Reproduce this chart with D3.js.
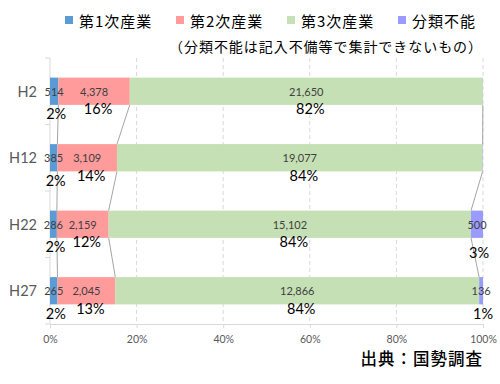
<!DOCTYPE html>
<html>
<head>
<meta charset="utf-8">
<script src="https://cdn.jsdelivr.net/npm/d3@7"></script>
<style>
  body { margin: 0; background: #fff; }
  svg { display: block; }
</style>
</head>
<body>
<div class="chart"></div>
<script>
// data
const years = ["H2", "H12", "H22", "H27"]
const seriesNames = ["第1次産業", "第2次産業", "第3次産業", "分類不能"]
const primary = [514, 385, 286, 265]
const secondary = [4378, 3109, 2159, 2045]
const tertiary = [21650, 19077, 15102, 12866]
const unknown = [10, 20, 500, 136]
const xTicks = [0, 0.2, 0.4, 0.6, 0.8, 1]
const colors = ["#5B9BD5", "#FF9B9B", "#C5E0B4", "#9B9BFF"]

const W = 500, H = 384
const plotLeft = 50, plotRight = 483, plotTop = 58, plotBottom = 324
const numFont = "Lato, 'Liberation Sans', sans-serif"
const jpFont = "'Noto Sans CJK JP', sans-serif"

const svg = d3.select(".chart").append("svg")
  .attr("width", W).attr("height", H)

// build stacked rows
const rows = years.map((yr, i) => {
  const vals = [primary[i], secondary[i], tertiary[i], unknown[i]]
  const total = d3.sum(vals)
  let acc = 0
  const segs = vals.map((v, k) => {
    const s = { key: k, value: v, start: acc / total, end: (acc + v) / total, share: v / total }
    acc += v
    return s
  })
  return { year: yr, segs: segs }
})

const x = d3.scaleLinear().domain([0, 1]).range([plotLeft, plotRight])
const y = d3.scaleBand().domain(years).range([plotTop, plotBottom])
  .paddingInner(0.59).paddingOuter(0.295)

// gridlines
svg.append("g").selectAll("line")
  .data(xTicks.filter(t => t > 0))
  .join("line")
  .attr("x1", d => x(d)).attr("x2", d => x(d))
  .attr("y1", plotTop).attr("y2", plotBottom)
  .attr("stroke", "#D9D9D9")
  .attr("stroke-dasharray", "4,3")

// bottom axis
const xAxis = svg.append("g")
  .attr("transform", `translate(0,${plotBottom})`)
  .call(d3.axisBottom(x).tickValues(xTicks).tickFormat(d3.format(".0%")).tickSize(4).tickPadding(8))
xAxis.select(".domain").attr("stroke", "#D9D9D9")
xAxis.selectAll(".tick line").attr("stroke", "#D9D9D9")
xAxis.selectAll("text").attr("fill", "#595959").style("font-family", numFont).style("font-size", "10.5px")

// left category axis
const step = y.step()
const yAxisG = svg.append("g")
yAxisG.append("line")
  .attr("x1", plotLeft).attr("x2", plotLeft).attr("y1", plotTop).attr("y2", plotBottom)
  .attr("stroke", "#D9D9D9")
yAxisG.selectAll(".sep")
  .data(d3.range(years.length + 1))
  .join("line")
  .attr("class", "sep")
  .attr("x1", plotLeft - 5).attr("x2", plotLeft)
  .attr("y1", i => plotTop + i * step).attr("y2", i => plotTop + i * step)
  .attr("stroke", "#D9D9D9")
yAxisG.selectAll("text")
  .data(years)
  .join("text")
  .attr("x", plotLeft - 13)
  .attr("y", d => y(d) + y.bandwidth() / 2)
  .attr("text-anchor", "end")
  .attr("dominant-baseline", "central")
  .attr("fill", "#595959")
  .style("font-family", numFont)
  .style("font-size", "14.5px")
  .text(d => d)

// series lines between bars
const links = []
for (let i = 0; i < rows.length - 1; i++) {
  for (let k = 0; k < 3; k++) {
    links.push({
      x1: x(rows[i].segs[k].end), y1: y(rows[i].year) + y.bandwidth(),
      x2: x(rows[i + 1].segs[k].end), y2: y(rows[i + 1].year)
    })
  }
}
svg.append("g").selectAll("line")
  .data(links)
  .join("line")
  .attr("x1", d => d.x1).attr("y1", d => d.y1)
  .attr("x2", d => d.x2).attr("y2", d => d.y2)
  .attr("stroke", "#A5A5A5")
  .attr("stroke-width", 1)

// bars
const rowG = svg.append("g").selectAll("g")
  .data(rows)
  .join("g")
  .attr("transform", d => `translate(0,${y(d.year)})`)

rowG.selectAll("rect")
  .data(d => d.segs)
  .join("rect")
  .attr("x", d => x(d.start))
  .attr("width", d => x(d.end) - x(d.start))
  .attr("y", 0)
  .attr("height", y.bandwidth())
  .attr("fill", d => colors[d.key])

// value labels inside bars
rowG.selectAll(".val")
  .data(d => d.segs.filter(s => s.value >= 100))
  .join("text")
  .attr("class", "val")
  .attr("x", d => (x(d.start) + x(d.end)) / 2)
  .attr("y", y.bandwidth() / 2)
  .attr("text-anchor", "middle")
  .attr("dominant-baseline", "central")
  .attr("fill", "#404040")
  .style("font-family", numFont)
  .style("font-size", "11px")
  .text(d => d3.format(",")(d.value))

// percentage labels under bars (small shares pushed a bit lower)
function pctOffset(d) {
  if (d.share >= 0.05) return 4
  if (d.key === 3 && d.share > 0.02) return 15
  return 9
}
rowG.selectAll(".pct")
  .data(d => d.segs.filter(s => s.value >= 100))
  .join("text")
  .attr("class", "pct")
  .attr("x", d => (x(d.start) + x(d.end)) / 2 + (d.share < 0.05 ? 2 : 4))
  .attr("y", d => y.bandwidth() + pctOffset(d))
  .attr("text-anchor", "middle")
  .attr("dominant-baseline", "central")
  .attr("fill", "#000")
  .style("font-family", numFont)
  .style("font-size", "14.5px")
  .text(d => Math.round(d.share * 100) + "%")

// legend
const legendX = [65, 176, 287, 398]
const legend = svg.append("g").selectAll("g")
  .data(seriesNames)
  .join("g")
  .attr("transform", (d, i) => `translate(${legendX[i]},20)`)
legend.append("rect")
  .attr("x", 0).attr("y", -4).attr("width", 8).attr("height", 8)
  .attr("fill", (d, i) => colors[i])
legend.append("text")
  .attr("x", 14).attr("y", 0)
  .attr("dominant-baseline", "central")
  .attr("fill", "#000")
  .style("font-family", jpFont)
  .style("font-size", "15px")
  .style("letter-spacing", "1px")
  .text(d => d)

svg.append("text")
  .attr("x", 483).attr("y", 46)
  .attr("text-anchor", "end")
  .attr("dominant-baseline", "central")
  .style("font-family", jpFont)
  .style("font-size", "14px")
  .style("letter-spacing", "0.95px")
  .text("（分類不能は記入不備等で集計できないもの）")

svg.append("text")
  .attr("x", 483).attr("y", 358)
  .attr("text-anchor", "end")
  .attr("dominant-baseline", "central")
  .style("font-family", jpFont)
  .style("font-size", "16.5px")
  .style("font-weight", "500")
  .style("letter-spacing", "1px")
  .text("出典：国勢調査")
</script>
</body>
</html>
